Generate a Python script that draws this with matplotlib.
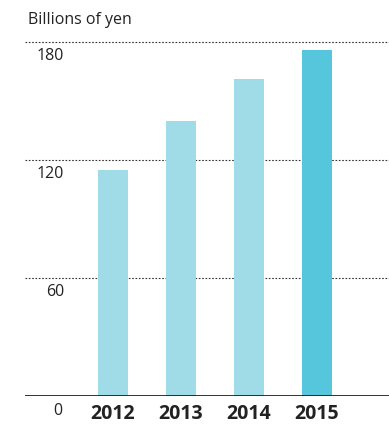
import matplotlib.pyplot as plt

years = ['2012', '2013', '2014', '2015']
values = [115, 140, 161, 176]
grid_vals = [60, 120, 180]
tick_labels = ['0', '60', '120', '180']

light = '#a0dbe8'
dark = '#55c6dc'
colors = [light, light, light, dark]

plt.rcParams['font.family'] = ['Open Sans', 'DejaVu Sans']

fig = plt.figure(figsize=(3.89, 4.27), dpi=100)
W, H = 389, 427
# axes covers px x 25..389, y 30..397 (baseline)
ax = fig.add_axes([25 / W, (H - 397) / H, (389 - 25) / W, (397 - 30) / H])
ax.set_xlim(-1.294, 4.059)
ax.set_ylim(0, 186.6)
ax.axis('off')

x = list(range(len(years)))
ax.bar(x, values, width=0.441, color=colors, zorder=2)

for g in grid_vals:
    ax.axhline(g, color='#333333', linewidth=0.8, linestyle=(0, (1.5, 1.5)), zorder=1)
ax.axhline(0, color='#111111', linewidth=1.2, zorder=3)

# y labels below each gridline
for v, lab in zip([0, 60, 120, 180], tick_labels):
    ax.text(-0.72 if v else -0.74, v - 6.8 if v else -7.0, lab, ha='right', va='center',
            fontsize=11.5, color='#222222', clip_on=False)

for xi, yr in zip(x, years):
    ax.text(xi, -8.8, yr, ha='center', va='center', fontsize=14,
            fontweight='bold', color='#222222', clip_on=False)

fig.text(28 / W, 1 - 20 / H, 'Billions of yen', ha='left', va='center',
         fontsize=11.5, color='#222222')

plt.savefig('out.png', dpi=100)
